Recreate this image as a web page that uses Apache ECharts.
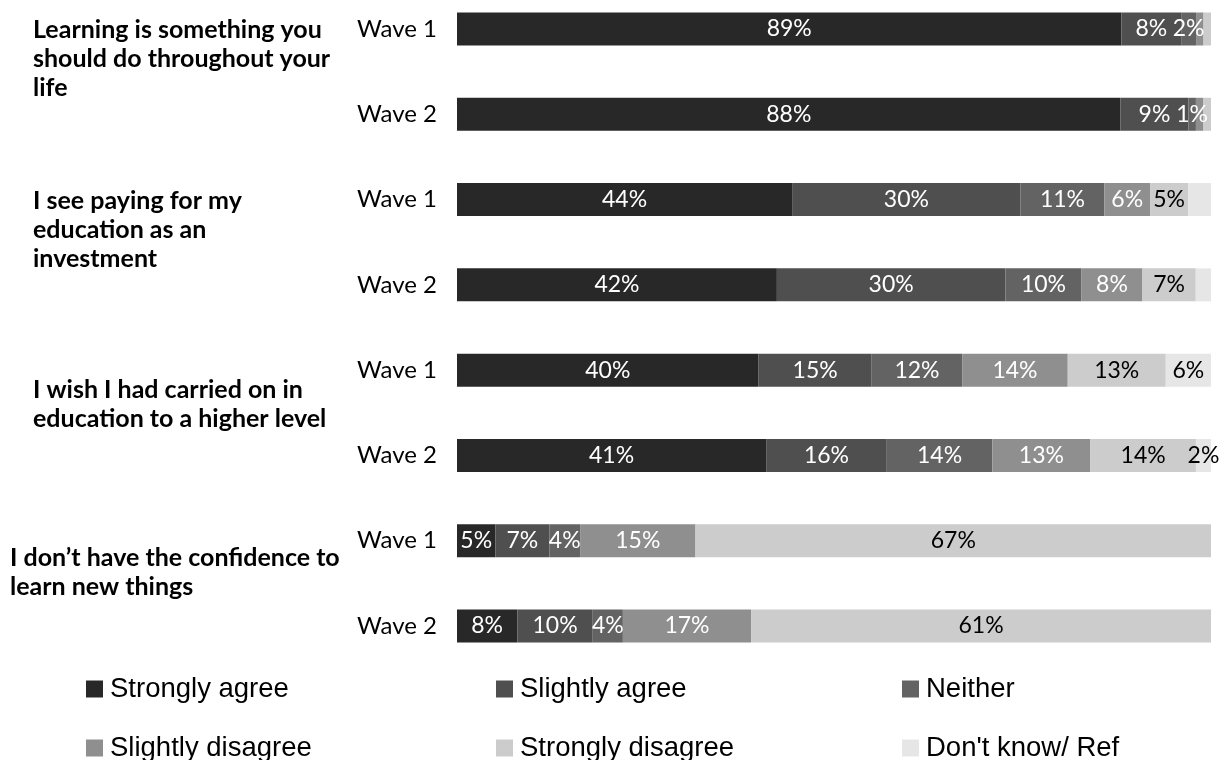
<!DOCTYPE html>
<html>
<head>
<meta charset="utf-8">
<script src="https://cdn.jsdelivr.net/npm/echarts@6/dist/echarts.min.js"></script>
<style>html,body{margin:0;padding:0;background:#fff;}#c{width:1227px;height:760px;}</style>
</head>
<body>
<div id="c"></div>
<script>
// rows: Q1 W1, Q1 W2, Q2 W1, Q2 W2, Q3 W1, Q3 W2, Q4 W1, Q4 W2
const waves = ['Wave 1','Wave 2','Wave 1','Wave 2','Wave 1','Wave 2','Wave 1','Wave 2'];
const questions = [
  'Learning is something you\nshould do throughout your\nlife',
  'I see paying for my\neducation as an\ninvestment',
  'I wish I had carried on in\neducation to a higher level',
  'I don\u2019t have the confidence to\nlearn new things'
];
const seriesNames = ['Strongly agree','Slightly agree','Neither','Slightly disagree','Strongly disagree',"Don't know/ Ref"];
const stronglyAgree    = [89, 88, 44, 42, 40, 41, 5, 8];
const slightlyAgree    = [8, 9, 30, 30, 15, 16, 7, 10];
const neither          = [2, 1, 11, 10, 12, 14, 4, 4];
const slightlyDisagree = [1, 1, 6, 8, 14, 13, 15, 17];
const stronglyDisagree = [1, 1, 5, 7, 13, 14, 67, 61];
const dontKnow         = [0, 0, 3, 2, 6, 2, 0, 0];
// segments shown without a value label in the reference: [seriesIndex, rowIndex]
const unlabeled = [[3,0],[3,1],[4,0],[4,1],[5,2],[5,3]];

const allValues = [stronglyAgree, slightlyAgree, neither, slightlyDisagree, stronglyDisagree, dontKnow];
const colors = ['#282828','#4f4f4f','#636363','#8f8f8f','#cccccc','#e6e6e6'];
const labelColors = ['#fff','#fff','#fff','#fff','#000','#000'];

// 100% stacked: each row is scaled to its own total
const rowTotals = waves.map((_, r) => allValues.reduce((s, arr) => s + arr[r], 0));

const series = allValues.map((arr, si) => ({
  name: seriesNames[si],
  type: 'bar',
  stack: 'total',
  barWidth: 33,
  clip: false,
  itemStyle: { color: colors[si] },
  label: {
    show: true,
    position: 'inside',
    color: labelColors[si],
    fontFamily: 'Lato',
    fontSize: 23,
    formatter: p => p.data.raw + '%'
  },
  data: arr.map((v, r) => {
    const hide = v === 0 || unlabeled.some(u => u[0] === si && u[1] === r);
    return { value: v / rowTotals[r] * 100, raw: v, label: { show: !hide } };
  })
}));

const legendPos = [[81,670],[491,670],[897,670],[81,729],[491,729],[897,729]];
const legends = seriesNames.map((n, i) => ({
  data: [n],
  left: legendPos[i][0],
  top: legendPos[i][1],
  orient: 'horizontal',
  icon: 'rect',
  itemWidth: 17,
  itemHeight: 17,
  selectedMode: false,
  textStyle: { fontFamily: 'Liberation Sans', fontSize: 27.5, color: '#000', padding: [0, 0, 0, 2] }
}));

const groupPos = [[33,15],[33,186],[33,375],[10,543]];
const graphics = questions.map((q, i) => ({
  type: 'text',
  left: groupPos[i][0],
  top: groupPos[i][1],
  style: {
    text: q,
    fontFamily: 'Lato',
    fontWeight: 'bold',
    fontSize: 25,
    lineHeight: 29,
    fill: '#000'
  }
}));

const chart = echarts.init(document.getElementById('c'));
chart.setOption({
  animation: false,
  backgroundColor: '#fff',
  grid: { left: 457, right: 16, top: 29, height: 597, containLabel: false },
  xAxis: { type: 'value', min: 0, max: 100, show: false },
  yAxis: {
    type: 'category',
    inverse: true,
    boundaryGap: false,
    data: waves,
    axisLine: { show: false },
    axisTick: { show: false },
    splitLine: { show: false },
    axisLabel: { margin: 20, fontFamily: 'Lato', fontSize: 24, color: '#000' }
  },
  legend: legends,
  graphic: graphics,
  series: series
});
</script>
</body>
</html>
